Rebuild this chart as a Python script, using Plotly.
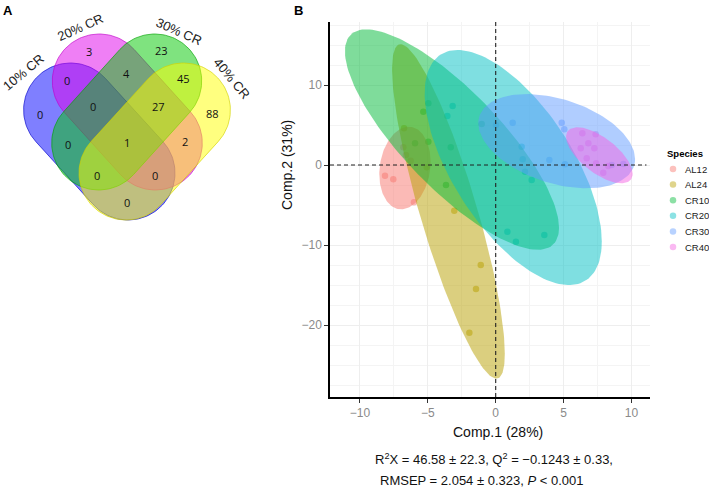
import numpy as np
import plotly.graph_objects as go

# ---------------- Panel A : Venn data ----------------
venn_sets = ["10% CR", "20% CR", "30% CR", "40% CR"]
venn_regions = ["20", "30", "10,20", "20,30", "30,40", "10", "10,20,30", "20,30,40",
                "40", "10,30", "10,20,30,40", "20,40", "10,30,40", "10,20,40", "10,40"]
venn_counts = [3, 23, 0, 4, 45, 0, 0, 27, 88, 0, 1, 2, 0, 0, 0]

# ---------------- Panel B : PLS-DA data ----------------
species = ["AL12", "AL24", "CR10", "CR20", "CR30", "CR40"]
al12_x = [-8.15, -7.54, -6.02, -6.61, -6.26, -6.80]
al12_y = [-1.34, -1.79, -4.66, 1.25, 0.54, 2.21]
al24_x = [-3.05, -1.10, -1.45, -1.94, -5.08, -6.75]
al24_y = [-5.71, -12.5, -15.5, -20.96, -0.29, 4.59]
cr10_x = [-5.33, -4.96, -3.31, -3.66, -4.96, -5.94, -1.03]
cr10_y = [6.66, 7.71, 2.21, -2.5, 2.91, 2.71, 5.13]
cr20_x = [1.91, 1.99, 2.16, 2.65, 0.86, 1.49, 3.58, -3.56, -3.17]
cr20_y = [2.29, 0.71, -0.83, -1.88, -8.33, -9.58, -8.75, 6.13, 7.38]
cr30_x = [0.02, 1.25, 4.86, 5.05, 3.95, 5.10, 8.54, 9.40]
cr30_y = [5.0, 5.29, 5.29, 4.46, 0.63, 0.08, 0.0, 0.13]
cr40_x = [6.38, 7.36, 6.82, 6.26, 7.26, 6.70, 7.39, 8.29, 7.92]
cr40_y = [3.96, 3.83, 2.71, 2.08, 2.08, 0.83, 0.21, -0.13, -0.96]

# confidence ellipses (centre, half x-extent, half y-extent, correlation)
ell_cx = [-6.68, -3.48, -3.22, 1.29, 4.49, 7.63]
ell_cy = [-0.375, -5.8, 3.18, -0.31, 2.98, 1.21]
ell_w = [1.89, 4.15, 7.88, 6.52, 5.77, 2.45]
ell_h = [5.16, 20.9, 13.78, 14.69, 5.89, 3.5]
ell_rho = [0.15, -0.85, -0.80, -0.63, -0.38, -0.66]

x_ticks = [-10, -5, 0, 5, 10]
y_ticks = [-20, -10, 0, 10]
x_title = "Comp.1 (28%)"
y_title = "Comp.2 (31%)"
stats_line1 = "R<sup>2</sup>X = 46.58 ± 22.3, Q<sup>2</sup> = −0.1243 ± 0.33,"
stats_line2 = "RMSEP = 2.054 ± 0.323, <i>P</i> &lt; 0.001"

pts_x = [al12_x, al24_x, cr10_x, cr20_x, cr30_x, cr40_x]
pts_y = [al12_y, al24_y, cr10_y, cr20_y, cr30_y, cr40_y]
hues = ["#F8766D", "#B79F00", "#00BA38", "#00BFC4", "#619CFF", "#F564E3"]


def rgba(hexc, a):
    h = hexc.lstrip("#")
    return "rgba(%d,%d,%d,%.3f)" % (int(h[0:2], 16), int(h[2:4], 16), int(h[4:6], 16), a)


def ellipse_xy(cx, cy, w, h, rho, n=160):
    t = np.linspace(0, 2 * np.pi, n)
    x = cx + w * np.cos(t)
    y = cy + h * (rho * np.cos(t) + np.sqrt(1 - rho ** 2) * np.sin(t))
    return x, y


def capsule(c1, c2, r, n=60):
    c1 = np.array(c1, float)
    c2 = np.array(c2, float)
    u = (c2 - c1) / np.linalg.norm(c2 - c1)
    a = np.arctan2(u[1], u[0])
    t2 = np.linspace(a - np.pi / 2, a + np.pi / 2, n)
    t1 = np.linspace(a + np.pi / 2, a + 3 * np.pi / 2, n)
    xs = np.concatenate([c2[0] + r * np.cos(t2), c1[0] + r * np.cos(t1), [c2[0] + r * np.cos(t2[0])]])
    ys = np.concatenate([c2[1] + r * np.sin(t2), c1[1] + r * np.sin(t1), [c2[1] + r * np.sin(t2[0])]])
    return xs, ys


fig = go.Figure()

# ---- Panel B: points (under ellipses)
for i, sp in enumerate(species):
    fig.add_trace(go.Scatter(x=pts_x[i], y=pts_y[i], mode="markers", name=sp,
                             marker=dict(size=6.5, color=hues[i], opacity=0.5),
                             showlegend=False, xaxis="x", yaxis="y"))
# ---- Panel B: ellipses
for i, sp in enumerate(species):
    ex, ey = ellipse_xy(ell_cx[i], ell_cy[i], ell_w[i], ell_h[i], ell_rho[i])
    fig.add_trace(go.Scatter(x=ex, y=ey, mode="lines", fill="toself",
                             fillcolor=rgba(hues[i], 0.5), line=dict(width=0),
                             showlegend=False, hoverinfo="skip", xaxis="x", yaxis="y"))

# ---- Panel A: Venn capsules (pixel coordinate overlay axis)
R = 47
caps = [((70.6, 110), (128, 173)),
        ((99.3, 81), (155.3, 143)),
        ((154.7, 81), (98.7, 143)),
        ((183.4, 110), (126, 173))]
venn_fill = ["rgba(0,0,255,0.5)", "rgba(224,0,235,0.5)", "rgba(0,200,0,0.5)", "rgba(255,255,0,0.5)"]
venn_line = ["rgba(0,0,200,0.8)", "rgba(190,0,200,0.8)", "rgba(0,160,0,0.8)", "rgba(210,210,0,0.8)"]
for i in range(4):
    cx_, cy_ = capsule(caps[i][0], caps[i][1], R)
    fig.add_trace(go.Scatter(x=cx_, y=cy_, mode="lines", fill="toself",
                             fillcolor=venn_fill[i], line=dict(width=0.8, color=venn_line[i]),
                             showlegend=False, hoverinfo="skip", xaxis="x2", yaxis="y2"))

# ---- manual legend markers (pixel axis)
leg_x = 673
leg_y0 = 169
leg_dy = 15.6
fig.add_trace(go.Scatter(x=[leg_x] * len(species), y=[leg_y0 + k * leg_dy for k in range(len(species))],
                         mode="markers", marker=dict(size=6.5, color=[rgba(h, 0.45) for h in hues]),
                         showlegend=False, hoverinfo="skip", xaxis="x2", yaxis="y2"))

annotations = []
FONT_B = "Liberation Sans, Arial, sans-serif"

def pix_ann(x, y, text, size, color="black", angle=0, family=FONT_B, xanchor="center", yanchor="middle"):
    annotations.append(dict(x=x, y=y, xref="x2", yref="y2", text=text, showarrow=False,
                            textangle=angle, xanchor=xanchor, yanchor=yanchor,
                            font=dict(size=size, color=color, family=family)))

# panel letters
pix_ann(8, 10, "<b>A</b>", 13)
pix_ann(298, 10, "<b>B</b>", 13)

# Venn set labels
set_pos = [(23, 72, -40), (80, 27, -24), (179, 31, 24), (232, 78, 50)]
for lab, (px, py, ang) in zip(venn_sets, set_pos):
    pix_ann(px, py, lab, 13, color="#222222", angle=ang)

# Venn counts
region_pos = {"20": (89.3, 51.7), "30": (161, 50.7), "10,20": (66.7, 80), "20,30": (126, 73.3),
              "30,40": (183.3, 78.3), "10": (40, 114), "10,20,30": (92.7, 106), "20,30,40": (158.3, 106),
              "40": (212.3, 113.3), "10,30": (68.3, 144), "10,20,30,40": (126.7, 142.7), "20,40": (185, 141.7),
              "10,30,40": (96.7, 175), "10,20,40": (155, 175), "10,40": (126.7, 202.3)}
for reg, cnt in zip(venn_regions, venn_counts):
    px, py = region_pos[reg]
    pix_ann(px, py, str(cnt), 11, color="#111111", family="Open Sans, sans-serif")

# axis titles and stats
pix_ann(287, 165, y_title, 14, color="#111111", angle=-90)
pix_ann(498, 432, x_title, 14, color="#111111")
pix_ann(494, 459, stats_line1, 13, color="#111111")
pix_ann(482, 480, stats_line2, 13, color="#111111")

# legend text
pix_ann(665, 153, "<b>Species</b>", 9.5, xanchor="left")
for k, sp in enumerate(species):
    pix_ann(683, leg_y0 + k * leg_dy, sp, 9.5, color="#222222", xanchor="left")

x_dom = [330 / 709, 650 / 709]
y_dom = [1 - 397 / 488, 1 - 22 / 488]
x_rng = [-12.2, 11.36]
y_rng = [-29.0, 17.875]

fig.update_layout(
    width=709, height=488, margin=dict(l=0, r=0, t=0, b=0),
    paper_bgcolor="white", plot_bgcolor="rgba(0,0,0,0)", showlegend=False,
    xaxis=dict(domain=x_dom, range=x_rng, showline=True, linecolor="black", linewidth=1.5,
               ticks="outside", ticklen=4, tickcolor="#333333", tickvals=x_ticks,
               ticktext=[("−%d" % -v) if v < 0 else str(v) for v in x_ticks],
               tickfont=dict(size=12, color="#8a8a8a", family=FONT_B),
               showgrid=True, gridcolor="#eeeeee", gridwidth=0.6, zeroline=False,
               minor=dict(dtick=2.5, tick0=0, showgrid=True, gridcolor="#f4f4f4", gridwidth=0.5),
               anchor="y", fixedrange=True),
    yaxis=dict(domain=y_dom, range=y_rng, showline=True, linecolor="black", linewidth=1.5,
               ticks="outside", ticklen=4, tickcolor="#333333", tickvals=y_ticks,
               ticktext=[("−%d" % -v) if v < 0 else str(v) for v in y_ticks],
               tickfont=dict(size=12, color="#8a8a8a", family=FONT_B),
               showgrid=True, gridcolor="#eeeeee", gridwidth=0.6, zeroline=False,
               minor=dict(dtick=2.5, tick0=0, showgrid=True, gridcolor="#f4f4f4", gridwidth=0.5),
               anchor="x", fixedrange=True),
    xaxis2=dict(domain=[0, 1], range=[0, 709], visible=False, anchor="y2", fixedrange=True),
    yaxis2=dict(domain=[0, 1], range=[488, 0], visible=False, anchor="x2", fixedrange=True),
    annotations=annotations,
    shapes=[
        dict(type="line", xref="x", yref="y", x0=0, x1=0, y0=y_rng[0], y1=y_rng[1],
             line=dict(color="#222222", width=1.1, dash="4px,3px")),
        dict(type="line", xref="x", yref="y", x0=x_rng[0], x1=11.1, y0=0, y1=0,
             line=dict(color="#222222", width=1.1, dash="4px,3px")),
    ],
)

fig.write_html("out.html", config={"displayModeBar": False},
               post_script="document.body.style.margin='0px';document.body.style.overflow='hidden';")
